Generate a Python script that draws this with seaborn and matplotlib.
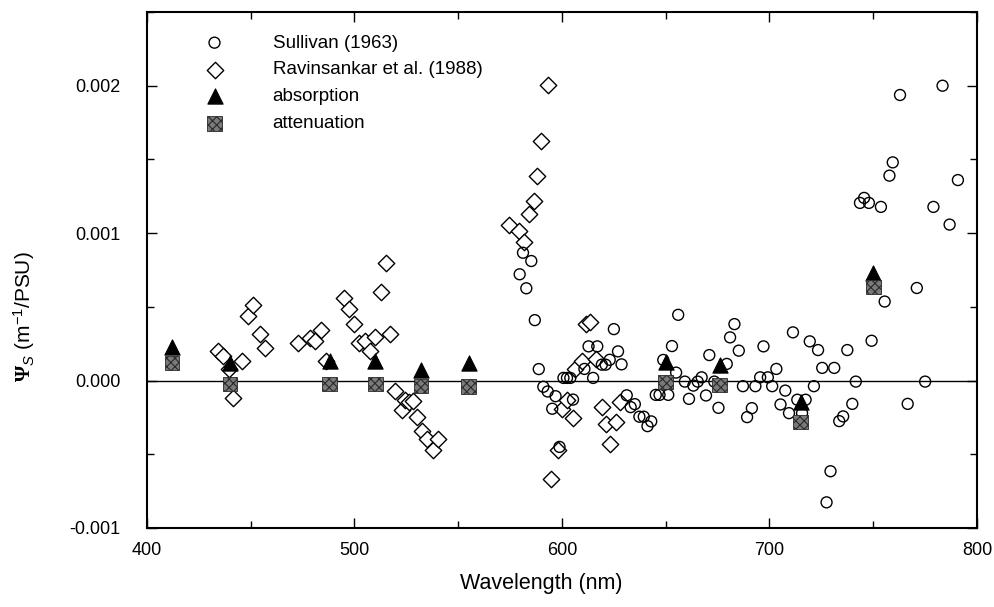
import matplotlib
matplotlib.use("Agg")
import matplotlib.pyplot as plt
import seaborn as sns
import numpy as np
import pandas as pd
from matplotlib.ticker import MultipleLocator, FuncFormatter

# ---------------- data ----------------
sullivan_wl = [582.8, 586.9, 588.8, 591.0, 593.1, 596.9, 595.3, 605.3, 600.7, 602.4,
               604.0, 598.8, 581.2, 585.2, 579.6, 610.8, 612.8, 617.0, 625.0, 627.0,
               623.0, 619.2, 621.0, 628.7, 615.0, 631.2, 633.1, 635.1, 637.3, 639.4,
               641.2, 643.0, 645.2, 647.0, 651.2, 648.8, 653.0, 656.0, 655.0, 659.2,
               661.2, 663.3, 665.4, 667.3, 669.4, 671.0, 673.4, 675.4, 679.4, 681.0,
               683.1, 685.2, 687.2, 689.2, 691.5, 693.2, 695.5, 697.1, 699.2, 701.3,
               703.3, 705.3, 707.6, 709.4, 711.3, 713.4, 717.4, 715.7, 719.4, 721.4,
               723.4, 725.4, 727.5, 729.4, 731.2, 733.6, 735.5, 737.5, 739.9, 741.6,
               743.6, 745.6, 747.9, 749.2, 753.7, 755.5, 757.8, 759.4, 762.9, 766.6,
               771.0, 775.0, 779.0, 783.4, 786.8, 790.8]
sullivan_psi = [0.000626, 0.000410, 0.000078, -0.000042, -0.000074, -0.000106, -0.000191, -0.000129, 0.000018, 0.000018,
                0.000018, -0.000450, 0.000867, 0.000811, 0.000721, 0.000079, 0.000232, 0.000232, 0.000349, 0.000198,
                0.000141, 0.000108, 0.000108, 0.000110, 0.000018, -0.000100, -0.000180, -0.000160, -0.000245, -0.000245,
                -0.000309, -0.000277, -0.000097, -0.000097, -0.000097, 0.000140, 0.000234, 0.000446, 0.000054, -0.000007,
                -0.000124, -0.000034, -0.000007, 0.000022, -0.000101, 0.000173, -0.000007, -0.000185, 0.000113, 0.000293,
                0.000383, 0.000203, -0.000038, -0.000248, -0.000187, -0.000038, 0.000022, 0.000232, 0.000022, -0.000038,
                0.000079, -0.000162, -0.000068, -0.000221, 0.000327, -0.000130, -0.000130, -0.000221, 0.000266, -0.000038,
                0.000207, 0.000086, -0.000826, -0.000615, 0.000086, -0.000275, -0.000243, 0.000207, -0.000158, -0.000007,
                0.001205, 0.001239, 0.001205, 0.000270, 0.001178, 0.000536, 0.001390, 0.001480, 0.001937, -0.000158,
                0.000628, -0.000007, 0.001178, 0.002000, 0.001058, 0.001360]

ravi_wl = [434.0, 436.8, 439.5, 445.8, 441.3, 448.5, 450.9, 454.5, 456.9, 472.7,
           478.4, 480.8, 484.0, 486.4, 494.9, 497.4, 499.8, 502.2, 505.0, 507.4,
           510.1, 512.7, 515.4, 517.0, 519.5, 522.7, 524.3, 526.4, 528.3, 529.9,
           532.4, 534.8, 537.7, 540.4, 574.6, 579.1, 581.5, 584.3, 586.4, 588.0,
           590.1, 593.3, 594.9, 598.2, 600.1, 602.5, 605.2, 606.5, 609.4, 611.4,
           613.5, 616.5, 619.1, 621.0, 623.1, 626.2, 627.9]
ravi_psi = [0.000198, 0.000169, 0.000079, 0.000135, -0.000117, 0.000439, 0.000511, 0.000315, 0.000218, 0.000252,
            0.000288, 0.000270, 0.000342, 0.000130, 0.000563, 0.000484, 0.000387, 0.000252, 0.000270, 0.000203,
            0.000293, 0.000601, 0.000795, 0.000315, -0.000074, -0.000203, -0.000135, -0.000145, -0.000138, -0.000248,
            -0.000345, -0.000394, -0.000473, -0.000399, 0.001052, 0.001014, 0.000939, 0.001133, 0.001216, 0.001390,
            0.001622, 0.002005, -0.000670, -0.000470, -0.000194, -0.000135, -0.000254, 0.000079, 0.000135, 0.000387,
            0.000394, 0.000146, -0.000178, -0.000293, -0.000433, -0.000278, -0.000146]

band_wl = [412, 440, 488, 510, 532, 555, 650, 676, 715, 750]
absorption_psi = [0.000225, 0.000117, 0.000130, 0.000135, 0.000072, 0.000117, 0.000128, 0.000106, -0.000146, 0.000732]
attenuation_psi = [0.000120, -0.000022, -0.000022, -0.000022, -0.000038, -0.000040, -0.000010, -0.000029, -0.000281, 0.000635]

labels = ["Sullivan (1963)", "Ravinsankar et al. (1988)", "absorption", "attenuation"]
x_ticks = [400, 500, 600, 700, 800]
y_ticks = [-0.001, 0.000, 0.001, 0.002]

# ---------------- style ----------------
sns.set_theme(style="ticks")
plt.rcParams["font.family"] = ["Liberation Sans", "DejaVu Sans"]
plt.rcParams["mathtext.fontset"] = "custom"
plt.rcParams["mathtext.rm"] = "Liberation Sans"
plt.rcParams["mathtext.it"] = "Liberation Sans:italic"
plt.rcParams["mathtext.bf"] = "Liberation Serif:bold"
plt.rcParams["axes.unicode_minus"] = False
plt.rcParams["hatch.linewidth"] = 0.8
for k in ["text.color", "axes.labelcolor", "xtick.color", "ytick.color",
          "xtick.labelcolor", "ytick.labelcolor"]:
    plt.rcParams[k] = "black"

fig = plt.figure(figsize=(9.95, 6.07), dpi=100)
ax = fig.add_axes([147 / 995, 1 - 528 / 607, 830 / 995, (528 - 12) / 607])

ax.axhline(0, color="black", lw=1.0, zorder=1)

df_s = pd.DataFrame({"wl": sullivan_wl, "psi": sullivan_psi})
df_r = pd.DataFrame({"wl": ravi_wl, "psi": ravi_psi})
df_b = pd.DataFrame({"wl": band_wl, "abs": absorption_psi, "att": attenuation_psi})

sns.scatterplot(data=df_s, x="wl", y="psi", ax=ax, marker="o", s=62,
                facecolor="none", edgecolor="black", linewidth=1.0,
                label=labels[0], zorder=3)
sns.scatterplot(data=df_r, x="wl", y="psi", ax=ax, marker="D", s=70,
                facecolor="white", edgecolor="black", linewidth=1.0,
                label=labels[1], zorder=2)
sns.scatterplot(data=df_b, x="wl", y="abs", ax=ax, marker="^", s=120,
                facecolor="black", edgecolor="black", linewidth=0.8,
                label=labels[2], zorder=4)
sns.scatterplot(data=df_b, x="wl", y="att", ax=ax, marker="s", s=110,
                facecolor="#7a7a7a", edgecolor="#2a2a2a", linewidth=0.6,
                label=labels[3], zorder=4)
ax.collections[-1].set_hatch("xxxx")

ax.set_xlim(400, 800)
ax.set_ylim(-0.001, 0.0025)
ax.set_xticks(x_ticks)
ax.xaxis.set_minor_locator(MultipleLocator(50))
ax.set_yticks(y_ticks)
ax.yaxis.set_minor_locator(MultipleLocator(0.0005))
ax.yaxis.set_major_formatter(FuncFormatter(lambda v, p: f"{v:.3f}"))

ax.tick_params(axis="both", which="both", direction="in", top=True, right=True,
               color="black", width=1.0)
ax.tick_params(axis="both", which="major", length=7, labelsize=13)
ax.tick_params(axis="both", which="minor", length=5)
ax.tick_params(axis="y", which="major", pad=19)
ax.tick_params(axis="x", which="major", pad=10)

for side, sp in ax.spines.items():
    sp.set_visible(True)
    sp.set_color("black")
    sp.set_linewidth(1.5)

ax.set_xlabel("Wavelength (nm)", fontsize=15.5)
ax.xaxis.set_label_coords(0.475, -0.088)
ax.set_ylabel(r"$\mathbf{\Psi}_S$ (m$^{-1}$/PSU)", fontsize=15)
ax.yaxis.set_label_coords(-0.132, 0.41)

leg = ax.legend(loc="upper left", bbox_to_anchor=(0.061, 0.971), frameon=False,
                fontsize=13.5, handletextpad=2.6, labelspacing=0.52,
                borderaxespad=0, handlelength=1.0)

fig.savefig("out.png", dpi=100)
